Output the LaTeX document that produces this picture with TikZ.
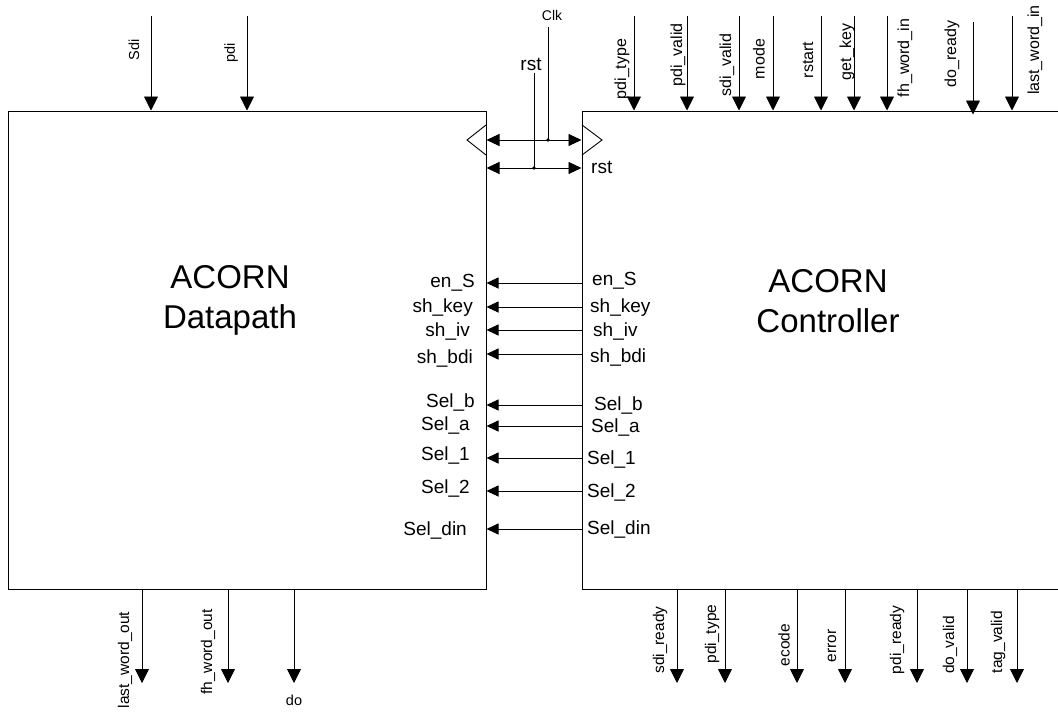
\documentclass[tikz,border=0pt]{standalone}
\usepackage{fontspec}
\setmainfont{Liberation Sans}
\usetikzlibrary{arrows.meta}
\begin{document}
\begin{tikzpicture}[x=1pt,y=-1pt,
  box/.style={draw,line width=1pt,rectangle,inner sep=0pt},
  sig/.style={line width=0.9pt,-{Triangle[length=14pt,width=14pt]}},
  ctl/.style={line width=0.9pt,-{Triangle[length=12pt,width=11pt]}},
  dbl/.style={line width=0.9pt,{Triangle[length=13pt,width=12pt]}-{Triangle[length=13pt,width=12pt]}},
  vlab/.style={rotate=90,font=\fontsize{16}{18}\selectfont,inner sep=0pt},
  blab/.style={rotate=90,font=\fontsize{15.5}{17}\selectfont,inner sep=0pt},
  slab/.style={rotate=90,font=\fontsize{14.5}{16}\selectfont,inner sep=0pt},
  mlab/.style={font=\fontsize{19}{21}\selectfont,inner sep=0pt},
  big/.style={font=\fontsize{33}{40}\selectfont,align=center,inner sep=0pt}
]
\useasboundingbox (0,0) rectangle (1058,715);
\clip (0,0) rectangle (1058,715);
% blocks
\node[box,minimum width=478pt,minimum height=478pt] (dp) at (247,350) {};
\node[box,minimum width=520pt,minimum height=478pt] (ctrl) at (842,350) {};
\node[big] (dpl) at (230,300) {ACORN\\Datapath};
\node[big] (ctl) at (828,301) {ACORN\\Controller};
% top-left inputs
\coordinate (sdiin) at (151,16);
\coordinate (pdiin) at (247,16);
\draw[sig] (sdiin) -- (sdiin |- dp.north);
\draw[sig] (pdiin) -- (pdiin |- dp.north);
\node[slab] (lsdi) at (134,50) {Sdi};
\node[slab] (lpdi) at (231,53) {pdi};
% top-right inputs
\coordinate (cpt) at (634,16);
\coordinate (cpv) at (687,16);
\coordinate (csv) at (739,16);
\coordinate (cmo) at (773,16);
\coordinate (crs) at (821,16);
\coordinate (cgk) at (854,16);
\coordinate (cfw) at (887,16);
\coordinate (cdr) at (973,22);
\coordinate (clw) at (1012,16);
\foreach \c in {cpt,cpv,csv,cmo,crs,cgk,cfw,clw}{\draw[sig] (\c) -- (\c |- ctrl.north);}
\draw[sig] (cdr) -- ([yshift=-4pt]cdr |- ctrl.north);
\node[vlab] (lpt) at (622,69) {pdi\_type};
\node[vlab] (lpv) at (678,55) {pdi\_valid};
\node[vlab] (lsv) at (727,65) {sdi\_valid};
\node[vlab] (lmo) at (759,59) {mode};
\node[vlab] (lrs) at (808,60) {rstart};
\node[vlab] (lgk) at (847,52) {get\_key};
\node[vlab] (lfw) at (905,58) {fh\_word\_in};
\node[vlab] (ldr) at (952,54) {do\_ready};
\node[vlab] (llw) at (1035,50) {last\_word\_in};
% clock and reset
\coordinate (clk) at (548,27);
\coordinate (clkj) at (548,140);
\coordinate (rsttop) at (534,73);
\coordinate (rstj) at (534,168);
\draw[dbl] (dp.east |- clkj) -- (ctrl.west |- clkj);
\draw[dbl] (dp.east |- rstj) -- (ctrl.west |- rstj);
\draw[line width=0.9pt] (clk) -- (clkj);
\draw[line width=0.9pt] (rsttop) -- (rstj);
\fill (clkj) circle (1.8);
\fill (rstj) circle (1.8);
\draw[line width=0.9pt] (486,125) -- (467,140) -- (486,155);
\draw[line width=0.9pt] (582,125) -- (602,140) -- (582,155);
\node[font=\fontsize{14}{16}\selectfont] (lclk) at (552,15) {Clk};
\node[font=\fontsize{19}{21}\selectfont] (lrst) at (531,64) {rst};
\node[font=\fontsize{19}{21}\selectfont,anchor=west,inner sep=0pt] (lrst2) at (591,167) {rst};
% control signals
\foreach \n/\y in {a/283,b/307,c/330,d/354,e/405,f/426,g/458,h/491,i/529}{
  \coordinate (s\n) at (582,\y);
  \draw[ctl] (s\n) -- (s\n -| dp.east);
}
\node[mlab,anchor=east] (l1) at (475,283) {en\_S};
\node[mlab,anchor=east] (l2) at (473,308) {sh\_key};
\node[mlab,anchor=east] (l3) at (470,331) {sh\_iv};
\node[mlab,anchor=east] (l4) at (473,358) {sh\_bdi};
\node[mlab,anchor=east] (l5) at (475,402) {Sel\_b};
\node[mlab,anchor=east] (l6) at (470,425) {Sel\_a};
\node[mlab,anchor=east] (l7) at (470,455) {Sel\_1};
\node[mlab,anchor=east] (l8) at (470,488) {Sel\_2};
\node[mlab,anchor=east] (l9) at (467,530) {Sel\_din};
\node[mlab,anchor=west] (r1) at (592,281) {en\_S};
\node[mlab,anchor=west] (r2) at (590,308) {sh\_key};
\node[mlab,anchor=west] (r3) at (593,331) {sh\_iv};
\node[mlab,anchor=west] (r4) at (590,357) {sh\_bdi};
\node[mlab,anchor=west] (r5) at (594,405) {Sel\_b};
\node[mlab,anchor=west] (r6) at (591,427) {Sel\_a};
\node[mlab,anchor=west] (r7) at (587,459) {Sel\_1};
\node[mlab,anchor=west] (r8) at (587,492) {Sel\_2};
\node[mlab,anchor=west] (r9) at (587,529) {Sel\_din};
% bottom-left outputs
\coordinate (olw) at (142,683);
\coordinate (ofw) at (228,683);
\coordinate (odo) at (294,683);
\foreach \c in {olw,ofw,odo}{\draw[sig] (\c |- dp.south) -- (\c);}
\node[blab] (llwo) at (125,660) {last\_word\_out};
\node[blab] (lfwo) at (208,652) {fh\_word\_out};
\node[font=\fontsize{14.5}{16}\selectfont,inner sep=0pt] (ldo) at (294,700) {do};
% bottom-right outputs
\coordinate (osr) at (677,683);
\coordinate (opt) at (725,683);
\coordinate (oec) at (797,683);
\coordinate (oer) at (845,683);
\coordinate (opr) at (917,683);
\coordinate (odv) at (967,683);
\coordinate (otv) at (1017,683);
\foreach \c in {osr,opt,oec,oer,opr,odv,otv}{\draw[sig] (\c |- ctrl.south) -- (\c);}
\node[blab] (lsr) at (660,640) {sdi\_ready};
\node[blab] (lpt2) at (712,634) {pdi\_type};
\node[blab] (lec) at (784,645) {ecode};
\node[blab] (ler) at (832,646) {error};
\node[blab] (lpr) at (897,640) {pdi\_ready};
\node[blab] (ldv) at (950,645) {do\_valid};
\node[blab] (ltv) at (998,642) {tag\_valid};
\end{tikzpicture}
\end{document}
